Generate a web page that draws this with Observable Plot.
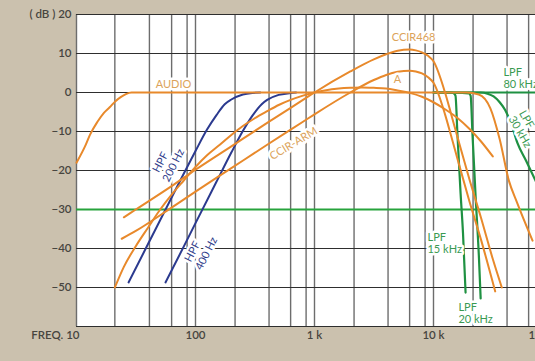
<!DOCTYPE html>
<html><head><meta charset="utf-8">
<script src="https://cdn.jsdelivr.net/npm/d3@7"></script>
<script src="https://cdn.jsdelivr.net/npm/@observablehq/plot@0.6"></script>
<style>
html,body{margin:0;padding:0;background:#cbc1ae;}
#chart{width:535px;height:361px;overflow:hidden;}
svg{display:block;}
</style></head><body><div id="chart"></div>
<script>
// ---- axes / grid ----
const gridFreqs = [10, 21, 41, 63, 85, 100, 215, 415, 630, 850, 1000, 2150, 4150, 6300, 8500, 10000, 21500, 41500, 63000, 85000];
const gridDb = [-60, -50, -40, -30, -20, -10, 0, 10, 20];
const dbTicks = [20, 10, 0, -10, -20, -30, -40, -50];
const dbTickLabels = ["( dB ) 20", "10", "0", "−10", "−20", "−30", "−40", "−50"];
const freqTicks = [10, 100, 1000, 10000, 100000];
const freqTickLabels = ["FREQ. 10", "100", "1 k", "10 k", "100 k"];
const refLevel = [-30];

// ---- curves (frequency Hz, level dB) ----
const audioF  = [10, 12, 13, 15, 17, 19, 21, 23.5, 26, 29, 19000, 24000, 30000, 36000, 43000, 50000, 68000];
const audioDb = [-18, -13.3, -10.8, -7.5, -5.2, -3.8, -2.4, -1.2, -0.4, 0, 0, -0.5, -4, -12, -22.6, -28, -38];

const ccir468F  = [25, 31.5, 63, 100, 200, 400, 800, 1000, 2000, 3150, 4000, 5000, 6300, 7100, 8000, 9000, 10000, 12500, 14000, 16000, 20000, 25000, 31500, 37500];
const ccir468Db = [-32, -30, -24, -19.8, -13.8, -7.8, -1.9, 0, 5.4, 8.5, 9.8, 10.7, 11, 10.8, 10.3, 9.4, 8.0, 0, -5.3, -11.7, -22.2, -32, -42.7, -50];

const ccirArmF  = [24, 31.5, 63, 100, 200, 400, 800, 1000, 2000, 3150, 4000, 5000, 6300, 7100, 8000, 9000, 10000, 12500, 14000, 16000, 20000, 25000, 33000];
const ccirArmDb = [-37.5, -35.5, -29.5, -25.4, -19.4, -13.4, -7.5, -5.6, 0, 3.2, 4.5, 5.3, 5.6, 5.4, 4.9, 3.9, 2.5, -5.6, -10.9, -17.3, -27.8, -37.6, -51];

const aWtF  = [21, 25, 31.5, 40, 50, 63, 80, 100, 125, 160, 200, 250, 315, 400, 500, 630, 800, 1000, 1250, 1600, 2000, 2500, 3150, 4000, 5000, 6300, 8000, 10000, 12500, 16000, 20000, 25000, 31500];
const aWtDb = [-50, -44.7, -39.4, -34.6, -30.2, -26.2, -22.5, -19.1, -16.1, -13.4, -10.9, -8.6, -6.6, -4.8, -3.2, -1.9, -0.8, 0, 0.6, 1.0, 1.2, 1.3, 1.2, 1.0, 0.5, -0.1, -1.1, -2.5, -4.3, -6.6, -9.3, -12.5, -16.4];

const hpf200F  = [27.4, 40, 60, 80, 100, 125, 150, 176, 200, 250, 300, 350];
const hpf200Db = [-48.7, -38.8, -28.2, -20.7, -15.0, -9.5, -5.8, -3.0, -1.8, -0.5, -0.1, 0];

const hpf400F  = [56, 80, 100, 150, 200, 250, 300, 360, 400, 500, 630, 700];
const hpf400Db = [-48.7, -39.4, -33.5, -22.9, -15.4, -9.9, -6.0, -3.0, -1.9, -0.6, -0.15, 0];

const lpf15F  = [10000, 14000, 14800, 15300, 15900, 16900, 17700, 18600];
const lpf15Db = [0, 0, -0.2, -0.8, -10.9, -26, -36.1, -51.3];

const lpf20F  = [10000, 19800, 20500, 21300, 22600, 24100, 24900];
const lpf20Db = [0, -0.2, -0.8, -11.2, -26.8, -42.4, -52.8];

const lpf30F  = [10000, 25000, 28400, 32000, 36000, 40000, 45000, 50800, 60000, 72000, 100000];
const lpf30Db = [0, 0, -0.3, -1, -2.5, -4.5, -8, -13, -17.5, -22.6, -32];

const lpf80F  = [10000, 100000];
const lpf80Db = [0, 0];

// ---- labels ----
const centerLabelText  = ["AUDIO", "CCIR468", "A", "CCIR-ARM", "HPF", "200 Hz", "HPF", "400 Hz", "LPF", "30 kHz"];
const centerLabelF     = [65.3, 6800, 4980, 667, 50.8, 65.3, 94.4, 123.6, 60500, 53300];
const centerLabelDb    = [2.05, 14.1, 3.3, -13.1, -17.9, -18.7, -40.8, -41.3, -6.9, -10.1];
const centerLabelAngle = [0, 0, 0, -31, -63, -63, -63, -63, 60, 60];
const centerLabelGroup = ["o", "o", "o", "o", "b", "b", "b", "b", "g", "g"];

const startLabelText = ["LPF", "15 kHz", "LPF", "20 kHz", "LPF", "80 kHz"];
const startLabelF    = [8900, 8900, 16200, 16200, 38700, 38700];
const startLabelDb   = [-37.2, -40.3, -55.1, -58.2, 5.1, 2.05];

const zip = (F, D) => F.map((f, i) => ({f, db: D[i]}));
const C = {orange: "#e8892b", blue: "#2b3a8f", green: "#1f9142", ref: "#27a33c",
           lo: "#dba35a", lb: "#2f3c8a", lg: "#3a9a52"};
const labelColor = {o: C.lo, b: C.lb, g: C.lg};

const centerLabels = centerLabelText.map((t, i) => ({t, f: centerLabelF[i], db: centerLabelDb[i], a: centerLabelAngle[i], g: centerLabelGroup[i]}));
const startLabels = startLabelText.map((t, i) => ({t, f: startLabelF[i], db: startLabelDb[i]}));

const font = "Lato, 'Open Sans', sans-serif";
const line = (F, D, stroke, w = 2) => Plot.line(zip(F, D), {x: "f", y: "db", stroke, strokeWidth: w, curve: "monotone-x"});

const chart = Plot.plot({
  width: 535, height: 361,
  marginTop: 14, marginBottom: 35, marginLeft: 76, marginRight: 0,
  style: {background: "#cbc1ae", fontFamily: font, fontSize: "11px"},
  x: {type: "log", domain: [10, 100000], range: [76, 552], axis: null},
  y: {domain: [-60, 20], range: [326, 14], axis: null},
  marks: [
    Plot.frame({fill: "white", stroke: null}),
    Plot.ruleX(gridFreqs, {stroke: "#6d6d6d", strokeWidth: 1.4}),
    Plot.ruleY(gridDb, {stroke: "#2e2e2e", strokeWidth: 1}),
    Plot.ruleY(refLevel, {stroke: C.ref, strokeWidth: 2.2}),
    line(hpf200F, hpf200Db, C.blue),
    line(hpf400F, hpf400Db, C.blue),
    line(lpf80F, lpf80Db, C.green, 2.2),
    line(lpf30F, lpf30Db, C.green, 2.2),
    line(lpf20F, lpf20Db, C.green, 2.2),
    line(lpf15F, lpf15Db, C.green, 2.2),
    line(aWtF, aWtDb, C.orange),
    line(ccirArmF, ccirArmDb, C.orange),
    line(ccir468F, ccir468Db, C.orange),
    line(audioF, audioDb, C.orange),
    Plot.text(centerLabels, {x: "f", y: "db", text: "t", rotate: "a", fill: d => labelColor[d.g],
      stroke: "white", strokeWidth: 5, paintOrder: "stroke", fontSize: 11, textAnchor: "middle"}),
    Plot.text(startLabels, {x: "f", y: "db", text: "t", fill: C.lg,
      stroke: "white", strokeWidth: 5, paintOrder: "stroke", fontSize: 11, textAnchor: "start"}),
    Plot.text(dbTicks, {x: 10, y: d => d, text: (d, i) => dbTickLabels[i], textAnchor: "end", dx: -5,
      fill: "#47453f", fontSize: 11.5, fontWeight: 600}),
    Plot.text(freqTicks.slice(0, 1), {x: d => d, frameAnchor: "bottom", dy: 12, text: (d, i) => freqTickLabels[i],
      textAnchor: "end", dx: 3, fill: "#47453f", fontSize: 11.5, fontWeight: 600}),
    Plot.text(freqTicks.slice(1, 4), {x: d => d, frameAnchor: "bottom", dy: 12, text: (d, i) => freqTickLabels[i + 1],
      textAnchor: "middle", fill: "#47453f", fontSize: 11.5, fontWeight: 600}),
    Plot.text(freqTicks.slice(4), {x: d => d, frameAnchor: "bottom", dy: 12, text: (d, i) => freqTickLabels[i + 4],
      textAnchor: "start", dx: -24, fill: "#47453f", fontSize: 11.5, fontWeight: 600})
  ]
});
document.getElementById("chart").appendChild(chart);
</script>
</body></html>
